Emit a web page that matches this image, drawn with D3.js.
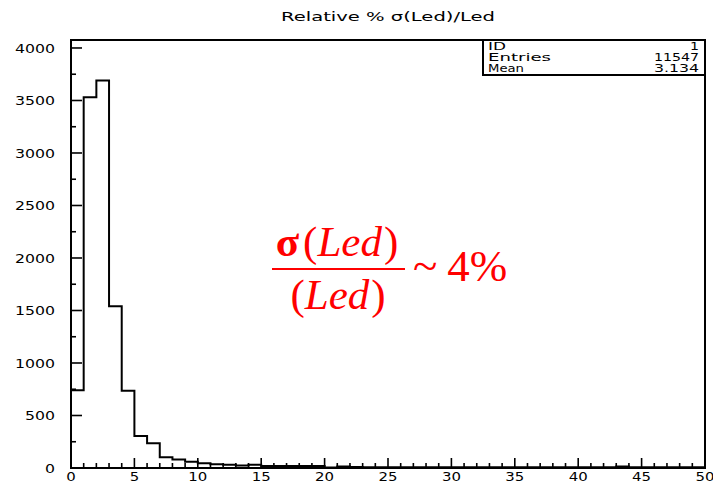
<!DOCTYPE html>
<html>
<head>
<meta charset="utf-8">
<script src="https://cdn.jsdelivr.net/npm/d3@7/dist/d3.min.js"></script>
<style>
  html, body { margin: 0; padding: 0; background: #fff; }
  svg { display: block; }
</style>
</head>
<body>
<script>
// Histogram of relative sigma(Led)/Led in percent, 1-unit bins from 0 to 50
const binEdgesStart = 0;
const binWidth = 1;
const counts = [
  740, 3530, 3690, 1540, 735, 305, 235, 102, 80, 60,
  45, 35, 30, 25, 30, 20, 20, 20, 20, 20,
  5, 15, 10, 8, 8, 8, 8, 8, 8, 8,
  8, 6, 8, 8, 8, 8, 8, 8, 8, 8,
  8, 8, 8, 14, 8, 8, 8, 8, 8, 8
];
const xTickValues = [0, 5, 10, 15, 20, 25, 30, 35, 40, 45, 50];
const yTickValues = [0, 500, 1000, 1500, 2000, 2500, 3000, 3500, 4000];
const statsLabels = ["ID", "Entries", "Mean"];
const statsValues = ["1", "11547", "3.134"];
const titleText = "Relative % σ(Led)/Led";

const W = 713, H = 483;
const frame = { left: 71, right: 705, top: 40, bottom: 468 };

const svg = d3.select("body").append("svg")
  .attr("width", W).attr("height", H);

const x = d3.scaleLinear().domain([0, 50]).range([frame.left, frame.right]);
const y = d3.scaleLinear().domain([0, 4076]).range([frame.bottom, frame.top]);

const axisFont = "'DejaVu Sans', sans-serif";

// Wide, plotter-style lettering: stretch glyphs to a fixed advance per character
function widen(sel, perChar) {
  sel.each(function () {
    const t = d3.select(this);
    const n = t.text().length;
    t.attr("textLength", n * perChar).attr("lengthAdjust", "spacingAndGlyphs");
  });
}

// Title
svg.append("text")
  .attr("x", (frame.left + frame.right) / 2)
  .attr("y", 21)
  .attr("text-anchor", "middle")
  .attr("font-family", axisFont)
  .attr("font-size", 13)
  .attr("textLength", 214)
  .attr("lengthAdjust", "spacingAndGlyphs")
  .text(titleText);

// Step outline of the histogram
const pts = [];
counts.forEach((c, i) => {
  const x0 = binEdgesStart + i * binWidth, x1 = x0 + binWidth;
  pts.push([x(x0), y(c)], [x(x1), y(c)]);
});
pts.unshift([x(binEdgesStart), y(0)]);
pts.push([x(binEdgesStart + counts.length * binWidth), y(0)]);

svg.append("path")
  .attr("d", d3.line()(pts))
  .attr("fill", "none")
  .attr("stroke", "#000")
  .attr("stroke-width", 2);

// Frame
svg.append("rect")
  .attr("x", frame.left).attr("y", frame.top)
  .attr("width", frame.right - frame.left)
  .attr("height", frame.bottom - frame.top)
  .attr("fill", "none").attr("stroke", "#000").attr("stroke-width", 2);

// X axis: ticks pointing into the frame
const xMinor = d3.range(0, 51, 1);
svg.append("g").selectAll("line").data(xMinor).join("line")
  .attr("x1", d => x(d)).attr("x2", d => x(d))
  .attr("y1", frame.bottom)
  .attr("y2", d => frame.bottom - (d % 5 === 0 ? 10 : 5))
  .attr("stroke", "#000").attr("stroke-width", 1.6);

svg.append("g").selectAll("text").data(xTickValues).join("text")
  .attr("x", d => x(d))
  .attr("y", frame.bottom + 13)
  .attr("text-anchor", "middle")
  .attr("font-family", axisFont)
  .attr("font-size", 12)
  .text(d => d)
  .call(widen, 9.5);

// Y axis
const yMinor = d3.range(0, 4001, 250);
svg.append("g").selectAll("line").data(yMinor).join("line")
  .attr("x1", frame.left)
  .attr("x2", d => frame.left + (d % 500 === 0 ? 11 : 5))
  .attr("y1", d => y(d)).attr("y2", d => y(d))
  .attr("stroke", "#000").attr("stroke-width", 1.6);

svg.append("g").selectAll("text").data(yTickValues).join("text")
  .attr("x", 55)
  .attr("y", d => y(d) + 5)
  .attr("text-anchor", "end")
  .attr("font-family", axisFont)
  .attr("font-size", 13)
  .text(d => d)
  .call(widen, 10);

// Statistics box
const box = { x0: 483, x1: frame.right, y0: frame.top, y1: 75 };
svg.append("rect")
  .attr("x", box.x0).attr("y", box.y0)
  .attr("width", box.x1 - box.x0).attr("height", box.y1 - box.y0)
  .attr("fill", "#fff").attr("stroke", "#000").attr("stroke-width", 2);
statsLabels.forEach((lab, i) => {
  const yy = box.y0 + 10 + i * 11;
  svg.append("text").attr("x", box.x0 + 5).attr("y", yy)
    .attr("font-family", axisFont).attr("font-size", 10.5).text(lab)
    .call(widen, 9);
  svg.append("text").attr("x", box.x1 - 6).attr("y", yy)
    .attr("text-anchor", "end")
    .attr("font-family", axisFont).attr("font-size", 10.5).text(statsValues[i])
    .call(widen, 9);
});

// Red annotation: sigma(Led)/(Led) ~ 4%
const red = "#ff0000";
const serif = "'Liberation Serif', 'Times New Roman', serif";
const ann = svg.append("g").attr("fill", red).attr("font-family", serif);

const num = ann.append("text").attr("x", 337).attr("y", 256)
  .attr("text-anchor", "middle").attr("font-size", 43);
num.append("tspan").attr("font-weight", "bold").text("σ");
num.append("tspan").attr("dx", 4).text("(");
num.append("tspan").attr("font-style", "italic").text("Led");
num.append("tspan").attr("dx", 2).text(")");

ann.append("line")
  .attr("x1", 272).attr("x2", 405).attr("y1", 269).attr("y2", 269)
  .attr("stroke", red).attr("stroke-width", 2);

const den = ann.append("text").attr("x", 338).attr("y", 309)
  .attr("text-anchor", "middle").attr("font-size", 43);
den.append("tspan").text("(");
den.append("tspan").attr("font-style", "italic").text("Led");
den.append("tspan").attr("dx", 2).text(")");

const tail = ann.append("text").attr("x", 413).attr("y", 281).attr("font-size", 45);
tail.append("tspan").text("~");
tail.append("tspan").attr("dx", 10).text("4%");
</script>
</body>
</html>
